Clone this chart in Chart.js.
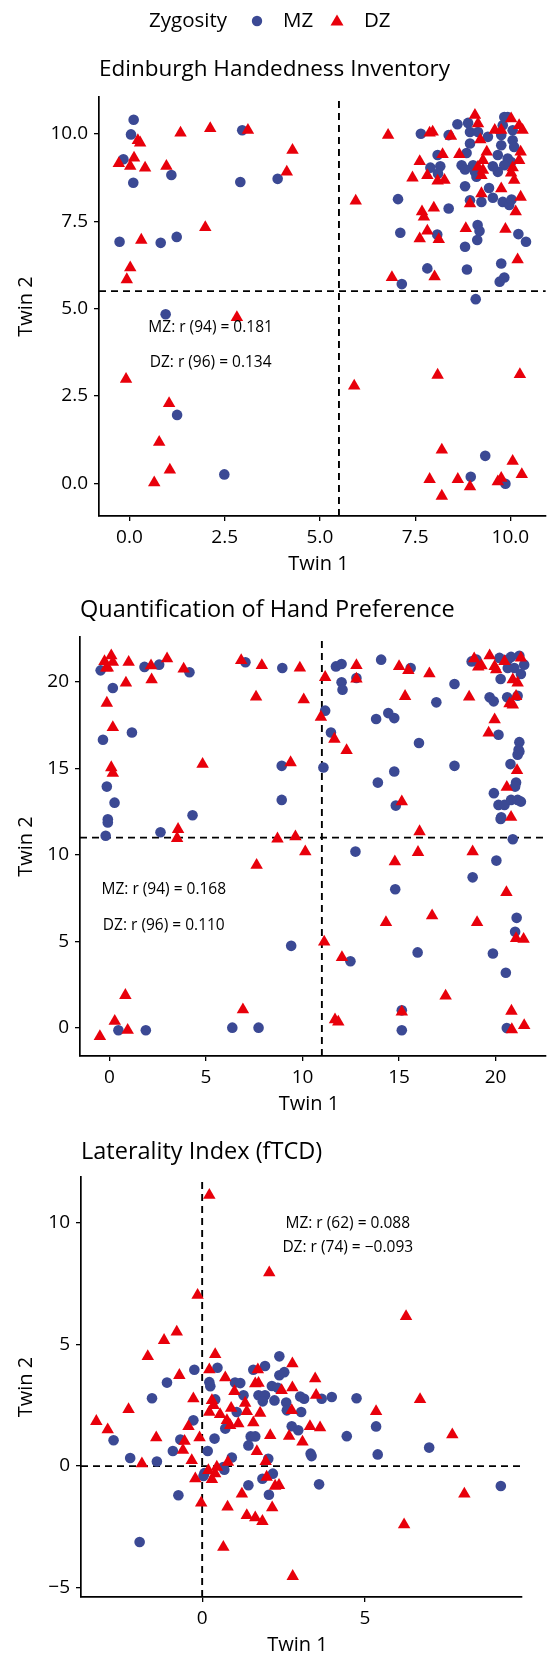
<!DOCTYPE html>
<html>
<head>
<meta charset="utf-8">
<script src="https://cdn.jsdelivr.net/npm/chart.js@4.4.0/dist/chart.umd.min.js"></script>
<style>
  body { margin: 0; background: #fff; width: 553px; height: 1657px; position: relative; overflow: hidden; }
  .panel { position: absolute; left: 0; width: 553px; }
</style>
</head>
<body>
<div class="panel" style="top:0;height:575px"><canvas id="ehi"></canvas></div>
<div class="panel" style="top:575px;height:535px"><canvas id="qhp"></canvas></div>
<div class="panel" style="top:1110px;height:547px"><canvas id="fTCD"></canvas></div>
<script>
const FONT = '"Open Sans", sans-serif';
const BLUE = '#3b4994';
const RED = '#e8000b';

const zygosity = ['MZ', 'DZ'];

// Edinburgh Handedness Inventory
const ehiTicks = [0, 2.5, 5, 7.5, 10];
const ehiMzTwin1 = [0.11, 0.04, -0.16, 0.1, 1.1, 2.91, 2.96, 3.89, -0.26, 0.82, 1.24, 7.05, 7.11, 7.65, 8.38, 8.61, 8.89, 8.94, 9.15, 9.41, 9.84, 9.93, 10.06, 9.8, 9.76, 10.06, 10.1, 9.76, 9.67, 9.93, 10.02, 9.84, 9.67, 9.02, 9.07, 9.11, 8.72, 8.81, 8.94, 8.85, 9.54, 8.09, 8.16, 8.1, 7.9, 8.81, 9.44, 9.54, 9.8, 9.97, 10.03, 8.94, 9.24, 8.38, 8.08, 9.14, 9.19, 9.13, 8.81, 10.21, 10.41, 7.82, 8.86, 9.76, 7.15, 9.72, 9.84, 9.09, 0.95, 1.25, 2.49, 9.34, 8.96, 9.87];
const ehiMzTwin2 = [10.4, 9.98, 9.27, 8.6, 8.82, 8.62, 10.1, 8.71, 6.91, 6.88, 7.05, 8.13, 7.17, 10.0, 9.96, 10.27, 10.31, 10.05, 10.05, 9.91, 10.48, 10.48, 10.1, 10.24, 9.96, 9.81, 9.62, 9.67, 9.39, 9.29, 9.19, 9.1, 8.91, 9.1, 8.91, 8.77, 9.1, 8.98, 9.72, 9.45, 9.07, 9.39, 9.07, 8.86, 9.03, 8.5, 8.45, 8.17, 8.05, 7.96, 8.12, 8.1, 8.05, 7.86, 7.12, 7.39, 7.22, 6.96, 6.77, 7.13, 6.91, 6.15, 6.12, 6.29, 5.7, 5.77, 5.89, 5.27, 4.84, 1.96, 0.26, 0.79, 0.19, -0.01];
const ehiDzTwin1 = [-0.28, 0.02, 0.12, 0.22, 0.28, 0.41, 0.97, 1.34, 2.12, 3.11, 1.99, 0.31, 0.02, -0.07, 4.28, 4.13, 6.79, 5.94, 7.88, 7.96, 8.44, 9.07, 9.15, 9.21, 9.59, 10.02, 10.23, 10.32, 9.76, 10.27, 10.23, 10.06, 10.02, 10.1, 9.38, 9.28, 9.15, 9.28, 9.24, 8.66, 8.22, 7.62, 7.43, 7.82, 8.09, 8.27, 9.24, 9.76, 10.27, 8.94, 10.14, 7.68, 7.73, 7.99, 7.82, 7.62, 8.12, 8.83, 9.87, 8.01, 10.19, 6.89, 2.82, -0.09, 1.04, 0.78, 1.06, 0.65, 5.9, 8.09, 10.25, 8.2, 10.06, 10.3, 7.88, 8.62, 8.94, 9.67, 9.76, 8.2];
const ehiDzTwin2 = [9.15, 9.07, 9.31, 9.81, 9.74, 9.02, 9.07, 10.02, 10.15, 10.1, 7.32, 6.96, 6.17, 5.83, 9.53, 8.91, 9.96, 8.08, 10.02, 10.05, 9.93, 10.53, 10.29, 9.83, 10.1, 10.43, 10.24, 10.1, 10.1, 9.48, 9.24, 9.03, 8.88, 8.67, 9.48, 9.24, 9.05, 8.96, 8.81, 9.41, 9.41, 9.21, 8.74, 8.81, 8.65, 8.67, 8.29, 8.43, 8.19, 8.0, 7.77, 7.77, 7.62, 7.88, 7.22, 7.0, 6.98, 7.29, 7.27, 5.91, 6.4, 5.89, 4.75, 2.98, 2.29, 1.18, 0.39, 0.02, 2.79, 3.1, 3.12, 0.96, 0.64, 0.26, 0.12, 0.12, -0.09, 0.05, 0.15, -0.36];

// Quantification of Hand Preference
const qhpTicks = [0, 5, 10, 15, 20];
const qhpMzTwin1 = [-0.46, 0.17, -0.34, 1.16, 1.81, 2.57, 4.14, 7.04, -0.14, 0.26, 4.3, -0.09, -0.09, -0.2, 2.64, 0.46, 1.88, 6.36, 7.72, 8.95, 11.17, 11.47, 11.73, 12.02, 12.02, 12.07, 12.79, 14.07, 15.6, 13.81, 14.44, 14.75, 16.93, 17.87, 16.03, 17.87, 14.75, 13.9, 14.83, 8.92, 11.08, 8.92, 18.76, 19.01, 20.2, 20.63, 20.8, 21.23, 20.63, 20.97, 21.48, 21.31, 20.26, 19.69, 19.9, 20.6, 21.14, 20.15, 21.23, 21.19, 21.23, 21.14, 20.77, 21.06, 21.01, 19.91, 20.15, 20.46, 20.8, 21.14, 21.31, 20.29, 20.26, 20.89, 12.74, 20.04, 18.81, 14.8, 21.09, 21.01, 9.41, 12.48, 15.96, 19.86, 20.53, 15.14, 15.14, 20.58];
const qhpMzTwin2 = [20.67, 19.65, 16.66, 17.08, 20.87, 21.0, 20.56, 21.14, 13.95, 13.02, 12.29, 12.06, 11.87, 11.11, 11.31, -0.14, -0.14, 0.01, 0.01, 20.81, 18.34, 17.08, 20.9, 21.04, 19.98, 19.55, 20.23, 21.29, 20.81, 17.86, 18.2, 17.91, 18.82, 19.88, 16.47, 15.15, 14.82, 14.18, 12.85, 15.15, 15.05, 13.18, 21.19, 21.29, 21.39, 21.29, 21.45, 21.52, 20.81, 20.81, 21.0, 20.46, 20.17, 19.11, 18.88, 19.11, 19.2, 16.95, 16.52, 16.08, 15.98, 15.79, 15.25, 14.18, 13.95, 13.57, 12.89, 12.89, 13.18, 13.18, 13.08, 12.18, 12.08, 10.9, 10.19, 9.67, 8.7, 8.01, 6.36, 5.55, 4.74, 3.85, 4.36, 4.3, 3.18, 1.01, -0.14, -0.01];
const qhpDzTwin1 = [-0.26, -0.09, 0.09, 0.17, -0.17, 0.85, 0.99, -0.14, 0.17, 2.15, 2.18, 2.98, 3.84, 6.82, 7.89, 7.59, 4.82, 0.09, 0.17, 3.55, 3.5, 7.62, 8.7, 0.82, 0.27, 0.94, 6.91, -0.5, 9.86, 11.17, 10.06, 10.95, 11.65, 12.28, 12.79, 12.79, 15.0, 15.48, 16.57, 15.31, 18.63, 15.14, 9.38, 18.89, 19.1, 19.27, 19.69, 19.95, 20.03, 21.31, 20.46, 20.89, 21.14, 21.06, 20.72, 20.89, 19.95, 19.64, 21.11, 20.58, 20.8, 16.06, 9.63, 10.14, 14.78, 15.98, 18.81, 20.56, 14.32, 16.71, 19.04, 21.06, 21.45, 11.12, 12.04, 17.41, 11.68, 11.85, 15.14, 20.82, 20.84, 21.48];
const qhpDzTwin2 = [21.19, 20.81, 21.52, 21.14, 20.81, 19.94, 21.14, 18.78, 17.37, 20.94, 20.13, 21.35, 20.75, 21.25, 20.96, 19.13, 15.25, 15.05, 14.73, 11.48, 10.96, 9.41, 10.93, 1.88, 0.38, -0.14, 1.05, -0.5, 20.81, 20.27, 18.97, 17.97, 16.7, 16.04, 20.96, 20.17, 20.9, 20.67, 20.48, 19.17, 19.13, 13.08, 15.34, 21.35, 20.87, 20.94, 21.52, 20.9, 20.71, 21.39, 21.19, 20.13, 19.94, 19.17, 18.74, 18.68, 17.82, 17.05, 14.88, 13.92, 12.18, 11.35, 11.05, 10.19, 9.61, 10.15, 10.19, 7.83, 6.1, 6.48, 6.1, 5.17, 5.13, 4.97, 4.07, 1.84, 0.47, 0.34, 0.92, 0.97, -0.1, 0.14];

// Laterality Index (fTCD)
const liXTicks = [0, 5];
const liYTicks = [-5, 0, 5, 10];
const liMzTwin1 = [2.37, -0.24, 0.47, 1.93, 1.57, 2.37, 2.52, -1.08, 0.22, 0.25, 1.01, 1.17, 2.14, 2.32, 1.27, 1.73, 1.88, 1.93, 1.86, 3.01, 3.13, 3.67, 3.98, 4.74, -1.54, 0.4, 2.22, 2.58, 2.6, 1.06, 3.04, -0.27, 0.71, 2.95, 2.75, 5.34, 4.44, -2.72, -0.67, 0.38, 1.49, 1.63, 1.42, -0.9, 0.17, 6.97, 3.33, 3.36, 5.39, -2.21, -1.39, 0.91, 2.03, 0.65, 0.68, 0.07, 0.04, 2.17, 1.85, 1.42, 3.59, 9.17, -0.73, 2.05, -1.92];
const liMzTwin2 = [4.51, 3.96, 4.04, 4.11, 3.96, 3.73, 3.86, 3.43, 3.45, 3.28, 3.43, 3.41, 3.29, 3.22, 2.91, 2.91, 2.84, 2.91, 2.66, 2.86, 2.77, 2.77, 2.84, 2.79, 2.79, 2.74, 2.7, 2.61, 2.29, 2.22, 2.22, 1.88, 1.54, 1.47, 1.64, 1.63, 1.23, 1.06, 1.09, 1.13, 1.22, 1.22, 0.85, 0.62, 0.62, 0.76, 0.51, 0.41, 0.48, 0.33, 0.19, 0.35, 0.3, -0.04, -0.15, -0.29, -0.41, -0.31, -0.52, -0.79, -0.75, -0.82, -1.2, -1.18, -3.12];
const liDzTwin1 = [0.22, 2.06, -0.14, 6.26, -0.78, -1.17, -1.67, 0.4, 2.77, 0.22, -0.7, 1.71, 0.71, 3.47, 1.63, 1.73, 2.44, 2.77, 0.99, 3.5, -0.27, 0.3, 1.32, 0.35, -2.26, 0.89, 2.75, 0.22, 1.37, 1.78, 5.34, 0.55, 6.69, -3.25, 0.76, 0.86, 1.11, 1.57, -0.42, 3.31, 3.62, -2.9, 7.68, -1.41, -0.54, -0.08, 2.09, 2.67, 3.08, -0.59, 1.68, -0.32, -1.85, 0.79, 1.95, 0.45, 0.19, 0.4, 0.3, -0.21, 1.98, 2.24, 2.36, 8.05, 1.22, -0.03, 0.78, 2.15, 1.37, 1.63, 1.85, 6.2, 0.65, 2.78];
const liDzTwin2 = [11.13, 7.95, 7.02, 6.15, 5.51, 5.17, 4.51, 4.59, 4.21, 3.96, 3.73, 3.96, 3.63, 3.59, 3.39, 3.41, 3.11, 3.22, 3.07, 2.91, 2.77, 2.7, 2.59, 2.49, 2.33, 2.38, 2.29, 2.22, 2.25, 2.18, 2.25, 2.12, 2.74, 1.84, 1.88, 1.67, 1.74, 1.78, 1.63, 1.63, 1.58, 1.5, 1.29, 1.17, 1.02, 1.17, 1.26, 1.23, 0.99, 0.65, 0.6, 0.23, 0.1, 0.16, 0.19, -0.04, -0.18, -0.31, -0.55, -0.52, -0.45, -0.82, -0.79, -1.14, -1.14, -1.51, -1.68, -1.71, -2.03, -2.12, -2.27, -2.41, -3.33, -4.53];

function pairs(xs, ys) {
  return xs.map((x, i) => ({ x: x, y: ys[i] }));
}

const panelText = {
  id: 'panelText',
  afterDraw(chart, args, o) {
    const { ctx, chartArea, scales } = chart;
    ctx.save();
    ctx.fillStyle = '#000';
    ctx.textBaseline = 'middle';

    ctx.font = o.titleSize + 'px ' + FONT;
    ctx.textAlign = 'left';
    ctx.fillText(o.title, chartArea.left, chartArea.top - o.titleGap);

    ctx.font = '20px ' + FONT;
    ctx.textAlign = 'center';
    ctx.fillText('Twin 1', (chartArea.left + chartArea.right) / 2 - 4, chartArea.bottom + 48);
    ctx.save();
    ctx.translate(26, (chartArea.top + chartArea.bottom) / 2);
    ctx.rotate(-Math.PI / 2);
    ctx.fillText('Twin 2', 0, 0);
    ctx.restore();

    ctx.font = '15.5px ' + FONT;
    o.notes.forEach(n => {
      ctx.fillText(n.text, scales.x.getPixelForValue(n.x), scales.y.getPixelForValue(n.y));
    });

    if (o.legend) {
      ctx.font = '20.5px ' + FONT;
      ctx.textAlign = 'left';
      ctx.fillText('Zygosity', 149, 21);
      ctx.fillStyle = BLUE;
      ctx.beginPath();
      ctx.arc(257, 21, 5.2, 0, Math.PI * 2);
      ctx.fill();
      ctx.fillStyle = RED;
      ctx.beginPath();
      ctx.moveTo(337, 14.5);
      ctx.lineTo(343.5, 25.5);
      ctx.lineTo(330.5, 25.5);
      ctx.closePath();
      ctx.fill();
      ctx.fillStyle = '#000';
      ctx.fillText(zygosity[0], 283, 21);
      ctx.fillText(zygosity[1], 364, 21);
    }
    ctx.restore();
  }
};

function axis(min, max, ticks, fmt, fitKey, fitVal) {
  return {
    type: 'linear',
    min: min,
    max: max,
    afterBuildTicks: s => { s.ticks = ticks.map(v => ({ value: v })); },
    afterFit: s => { s[fitKey] = fitVal; },
    border: { display: true, color: '#000', width: 1.7 },
    grid: { drawOnChartArea: false, drawTicks: true, tickLength: 5, color: '#000', lineWidth: 1.3 },
    ticks: {
      autoSkip: false,
      maxRotation: 0,
      color: '#000',
      padding: fitKey === 'height' ? 5 : 6,
      font: { family: FONT, size: 19 },
      callback: fmt
    }
  };
}

function refLines(cut, xr, yr) {
  const style = { showLine: true, borderColor: '#000', borderWidth: 1.9, borderDash: [7, 5], pointRadius: 0, order: 3 };
  return [
    Object.assign({ data: [{ x: cut[0], y: yr[0] }, { x: cut[0], y: yr[1] }] }, style),
    Object.assign({ data: [{ x: xr[0], y: cut[1] }, { x: xr[1], y: cut[1] }] }, style)
  ];
}

function makePanel(id, p) {
  const datasets = refLines(p.cut, p.xr, p.yr).concat([
    { label: zygosity[0], data: pairs(p.mz[0], p.mz[1]), pointStyle: 'circle', pointRadius: 5.3, backgroundColor: BLUE, borderWidth: 0, order: 1 },
    { label: zygosity[1], data: pairs(p.dz[0], p.dz[1]), pointStyle: 'triangle', pointRadius: 7.2, backgroundColor: RED, borderWidth: 0, order: 0 }
  ]);
  new Chart(document.getElementById(id), {
    type: 'scatter',
    data: { datasets: datasets },
    options: {
      responsive: true,
      maintainAspectRatio: false,
      animation: false,
      events: [],
      layout: { padding: { top: p.padTop, right: p.padRight, left: 0, bottom: 0 } },
      scales: {
        x: axis(p.xr[0], p.xr[1], p.xTicks, p.fmt, 'height', p.xAxisH),
        y: axis(p.yr[0], p.yr[1], p.yTicks, p.fmt, 'width', p.yAxisW)
      },
      plugins: {
        legend: { display: false },
        tooltip: { enabled: false },
        panelText: { title: p.title, titleSize: p.titleSize, titleGap: p.titleGap, notes: p.notes, legend: p.legend }
      }
    },
    plugins: [panelText]
  });
}

const minus = v => String(v).replace('-', '\u2212');

makePanel('ehi', {
  title: 'Edinburgh Handedness Inventory', titleSize: 22.5, titleGap: 27, legend: true,
  xr: [-0.8, 10.93], yr: [-0.93, 11.05], cut: [5.5, 5.5],
  xTicks: ehiTicks, yTicks: ehiTicks, fmt: v => v.toFixed(1),
  mz: [ehiMzTwin1, ehiMzTwin2], dz: [ehiDzTwin1, ehiDzTwin2],
  padTop: 97, padRight: 1, xAxisH: 59, yAxisW: 99,
  notes: [{ text: 'MZ: r (94) = 0.181', x: 2.13, y: 4.47 }, { text: 'DZ: r (96) = 0.134', x: 2.13, y: 3.45 }]
});

makePanel('qhp', {
  title: 'Quantification of Hand Preference', titleSize: 23.5, titleGap: 27, legend: false,
  xr: [-1.53, 22.6], yr: [-1.63, 22.6], cut: [11, 11],
  xTicks: qhpTicks, yTicks: qhpTicks, fmt: minus,
  mz: [qhpMzTwin1, qhpMzTwin2], dz: [qhpDzTwin1, qhpDzTwin2],
  padTop: 62, padRight: 1, xAxisH: 54, yAxisW: 80,
  notes: [{ text: 'MZ: r (94) = 0.168', x: 2.81, y: 7.97 }, { text: 'DZ: r (96) = 0.110', x: 2.81, y: 5.9 }]
});

makePanel('fTCD', {
  title: 'Laterality Index (fTCD)', titleSize: 23.5, titleGap: 25, legend: false,
  xr: [-3.72, 9.82], yr: [-5.38, 11.88], cut: [0, 0],
  xTicks: liXTicks, yTicks: liYTicks, fmt: minus,
  mz: [liMzTwin1, liMzTwin2], dz: [liDzTwin1, liDzTwin2],
  padTop: 67, padRight: 31, xAxisH: 60, yAxisW: 81,
  notes: [{ text: 'MZ: r (62) = 0.088', x: 4.47, y: 9.97 }, { text: 'DZ: r (74) = \u22120.093', x: 4.47, y: 8.96 }]
});
</script>
</body>
</html>
